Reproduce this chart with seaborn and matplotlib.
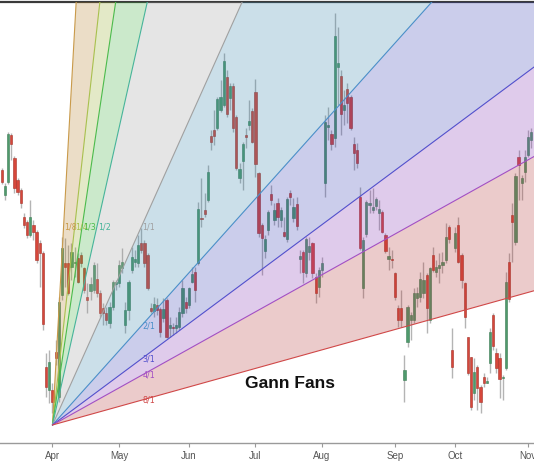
import numpy as np
import pandas as pd
import matplotlib
matplotlib.use("Agg")
import matplotlib.pyplot as plt
import seaborn as sns

# ---------------- data ----------------
opens = [83.0, 80.5, 81.8, 86.5, 84.2, 82.0, 81.0, 78.3, 77.8, 76.5,
         77.5, 76.8, 75.7, 74.7, 63.3, 61.0, 61.0, 64.8, 60.3, 70.5,
         73.7, 73.7, 73.3, 73.7, 74.2, 74.5, 73.2, 70.3, 70.9, 71.0,
         72.1, 70.7, 69.2, 68.7, 67.7, 69.3, 71.6, 71.7, 73.2, 67.5,
         69.0, 73.0, 73.8, 73.7, 75.7, 75.7, 74.5, 69.2, 68.9, 69.5,
         69.1, 68.2, 70.0, 67.2, 67.3, 67.2, 67.3, 68.7, 69.8, 69.5,
         71.8, 72.8, 73.7, 78.2, 79.0, 80.0, 86.4, 87.0, 87.2, 89.0,
         89.5, 92.3, 90.2, 91.4, 88.3, 82.2, 83.9, 86.5, 87.5, 88.9,
         90.8, 82.7, 77.5, 74.9, 77.0, 80.6, 78.0, 79.7, 78.0, 76.8,
         76.1, 80.7, 78.2, 79.6, 74.1, 74.8, 72.7, 74.8, 75.7, 72.3,
         71.3, 73.0, 81.7, 87.3, 86.6, 86.2, 93.3, 92.4, 89.0, 91.1,
         90.3, 85.6, 85.0, 80.3, 71.2, 76.6, 79.5, 79.0, 79.4, 78.7,
         78.8, 76.5, 74.1, 74.1, 72.7, 69.2, 69.2, 62.0, 65.8, 68.0,
         68.0, 70.2, 70.3, 70.7, 72.5, 68.0, 74.5, 72.8, 73.2, 73.5,
         74.0, 77.3, 65.0, 75.2, 77.5, 74.5, 71.7, 66.3, 64.3, 60.7,
         63.3, 61.3, 62.3, 61.7, 63.7, 68.5, 64.7, 64.2, 62.2, 63.2,
         73.8, 78.5, 75.8, 84.3, 81.7, 82.8, 84.5, 86.0]
highs = [83.2, 81.7, 86.8, 86.7, 84.4, 82.2, 81.2, 78.7, 78.0, 80.0,
         78.0, 77.0, 76.0, 74.9, 64.7, 65.0, 61.7, 66.0, 70.3, 76.3,
         76.2, 75.5, 75.7, 75.3, 74.7, 74.8, 73.3, 71.7, 72.3, 73.8,
         73.7, 71.0, 69.7, 69.3, 69.8, 72.0, 72.0, 74.0, 75.2, 69.8,
         72.0, 75.3, 75.0, 76.5, 77.2, 76.0, 74.7, 69.7, 70.3, 70.2,
         69.3, 70.2, 70.2, 68.3, 67.7, 68.3, 69.3, 72.0, 70.3, 71.3,
         73.3, 73.3, 79.8, 82.2, 80.7, 83.5, 87.0, 89.0, 90.3, 92.0,
         94.7, 93.0, 91.7, 91.7, 88.5, 83.7, 85.8, 87.2, 90.0, 89.2,
         92.1, 82.8, 77.7, 76.5, 79.0, 81.5, 79.7, 80.2, 79.3, 78.3,
         80.3, 81.0, 80.2, 80.3, 75.0, 75.0, 76.3, 76.3, 75.8, 72.7,
         73.3, 74.3, 88.5, 89.3, 87.0, 98.7, 97.3, 93.0, 91.0, 91.7,
         90.5, 86.3, 85.7, 81.3, 76.3, 80.0, 81.0, 81.2, 80.3, 80.0,
         79.0, 76.7, 75.3, 75.0, 72.8, 69.5, 71.0, 64.5, 69.5, 68.8,
         71.2, 71.3, 72.8, 73.8, 72.7, 73.3, 75.3, 74.0, 74.7, 74.8,
         77.7, 77.5, 67.2, 77.3, 78.3, 74.7, 71.8, 66.3, 64.3, 64.2,
         63.5, 61.5, 62.7, 62.3, 67.2, 68.7, 65.2, 64.7, 62.5, 72.8,
         74.7, 79.7, 82.7, 85.0, 82.5, 85.0, 87.0, 87.2]
lows = [81.6, 80.0, 81.6, 84.0, 80.7, 80.5, 79.2, 77.2, 76.2, 76.3,
        76.0, 73.7, 71.3, 67.0, 60.3, 59.7, 58.7, 63.5, 59.8, 70.0,
        71.3, 70.5, 72.0, 72.3, 71.7, 73.3, 70.7, 68.7, 70.0, 70.7,
        70.3, 68.3, 67.5, 67.5, 67.2, 69.0, 71.0, 71.3, 72.7, 66.7,
        68.0, 72.7, 73.3, 73.3, 74.7, 73.3, 71.0, 68.7, 68.3, 68.5,
        66.3, 67.8, 66.2, 66.3, 66.5, 66.7, 67.0, 68.3, 68.7, 69.2,
        71.7, 69.8, 73.5, 77.3, 78.3, 79.8, 85.0, 85.5, 87.0, 88.8,
        89.3, 88.3, 89.0, 86.8, 83.0, 81.7, 81.0, 85.2, 87.0, 85.7,
        82.3, 76.3, 72.5, 74.2, 76.5, 79.5, 77.5, 77.3, 77.3, 76.3,
        75.8, 79.5, 77.8, 77.0, 72.7, 71.7, 72.3, 74.0, 72.2, 69.7,
        70.3, 72.3, 80.3, 86.0, 85.0, 85.3, 89.5, 86.5, 87.5, 87.7,
        87.0, 83.0, 83.2, 75.0, 70.2, 76.3, 78.7, 78.7, 79.0, 77.0,
        76.7, 74.7, 73.0, 73.2, 70.0, 67.3, 67.3, 59.8, 65.3, 66.0,
        67.7, 69.3, 69.8, 70.2, 66.7, 67.7, 72.8, 72.3, 71.7, 72.7,
        73.7, 75.7, 62.2, 74.8, 73.7, 71.2, 67.2, 62.5, 59.0, 60.0,
        59.0, 58.7, 61.3, 61.7, 62.7, 65.0, 62.7, 60.2, 60.0, 63.0,
        69.8, 73.8, 75.5, 80.0, 80.0, 81.8, 84.3, 85.2]
closes = [81.8, 81.4, 86.6, 85.6, 81.2, 80.8, 79.7, 77.5, 76.5, 78.3,
          76.8, 74.0, 74.7, 67.6, 61.3, 63.8, 59.8, 64.2, 69.8, 75.2,
          73.3, 70.7, 74.8, 73.8, 71.8, 73.7, 71.0, 70.0, 71.6, 73.5,
          70.7, 68.7, 68.7, 68.0, 69.3, 71.8, 71.8, 73.5, 73.8, 69.0,
          71.8, 74.3, 74.1, 75.5, 75.0, 73.7, 71.2, 68.9, 69.6, 69.0,
          66.8, 69.1, 66.3, 67.5, 67.2, 67.5, 68.8, 71.2, 69.2, 71.2,
          72.6, 71.0, 79.1, 78.1, 78.6, 82.8, 85.8, 86.4, 90.1, 90.3,
          93.9, 88.6, 91.4, 87.2, 83.2, 83.1, 85.6, 86.3, 87.9, 85.8,
          83.6, 76.7, 76.2, 76.1, 78.8, 80.0, 79.0, 78.3, 79.0, 76.4,
          80.1, 80.3, 79.3, 77.4, 74.4, 72.8, 76.1, 75.4, 72.7, 70.7,
          73.0, 73.7, 87.8, 87.5, 85.6, 96.4, 93.7, 88.6, 89.5, 89.7,
          87.2, 84.7, 83.7, 75.2, 76.0, 79.8, 79.7, 79.3, 80.1, 79.1,
          76.8, 74.9, 74.4, 74.0, 70.3, 68.0, 68.0, 63.0, 69.3, 68.5,
          70.7, 70.7, 72.1, 72.0, 69.2, 73.2, 73.0, 73.3, 73.5, 73.8,
          76.3, 76.1, 63.3, 76.7, 73.8, 72.0, 68.3, 62.7, 59.3, 62.8,
          61.2, 59.8, 61.7, 61.9, 66.8, 65.4, 63.2, 62.1, 62.3, 71.8,
          70.1, 77.8, 82.4, 83.5, 82.2, 84.3, 86.3, 86.8]

month_labels = ["Apr", "May", "Jun", "Jul", "Aug", "Sep", "Oct", "Nov"]
month_bar_index = [16, 37, 59, 80, 101, 124, 143, 166]

# Gann fan anchor (bar index, price) and 1x1 box size (bars, price)
fan_anchor_bar = 16
fan_anchor_price = 57.5
fan_box_bars = 28
fan_box_price = 19.8
fan_names = ["1/8", "1/4", "1/3", "1/2", "1/1", "2/1", "3/1", "4/1", "8/1"]
fan_time = [1/8, 1/4, 1/3, 1/2, 1, 1, 1, 1, 1]      # fraction of box width
fan_price = [1, 1, 1, 1, 1, 1/2, 1/3, 1/4, 1/8]     # fraction of box height
fan_line_colors = ["#c99a4a", "#a9c04e", "#4cbb4c", "#47b49a", "#a0a0a0",
                   "#4a8fc8", "#5250cc", "#a24fc4", "#d04848"]
band_colors = ["#b07b23", "#93ab23", "#33ab33", "#9b9b9b",
               "#3383ab", "#333bb3", "#8333b3", "#b33333"]

# ---------------- style ----------------
sns.set_theme(style="white")
plt.rcParams["font.family"] = ["Liberation Sans", "DejaVu Sans"]

fig = plt.figure(figsize=(5.34, 4.62), dpi=100)
ax = fig.add_axes([0, 19 / 462, 1, 441 / 462])

df = pd.DataFrame({"o": opens, "h": highs, "l": lows, "c": closes})
df["i"] = np.arange(len(df))
up = df["c"] >= df["o"]

green = "#4f9a6c"
red = "#d6473b"

# wicks
ax.vlines(df["i"], df["l"], df["h"], color="#b4b4b4", lw=1.0, zorder=1)
# bodies
bottoms = np.minimum(df["o"], df["c"])
heights = np.maximum((df["c"] - df["o"]).abs(), 0.12)
ax.bar(df["i"][up], heights[up], bottom=bottoms[up], width=0.7,
       color=green, edgecolor="#3f7f58", linewidth=0.4, zorder=2)
ax.bar(df["i"][~up], heights[~up], bottom=bottoms[~up], width=0.7,
       color=red, edgecolor="#a8332a", linewidth=0.4, zorder=2)

# fan bands and lines
slopes = [(fan_box_price * fp) / (fan_box_bars * ft) for ft, fp in zip(fan_time, fan_price)]
xs = np.linspace(fan_anchor_bar, 400, 800)
for k in range(len(slopes) - 1):
    y1 = fan_anchor_price + slopes[k] * (xs - fan_anchor_bar)
    y2 = fan_anchor_price + slopes[k + 1] * (xs - fan_anchor_bar)
    ax.fill_between(xs, y1, y2, color=band_colors[k], alpha=0.25, lw=0, zorder=3)

rows = []
for name, s in zip(fan_names, slopes):
    for xv in (fan_anchor_bar, 400):
        rows.append({"fan": name, "x": xv, "y": fan_anchor_price + s * (xv - fan_anchor_bar)})
fan_df = pd.DataFrame(rows)
sns.lineplot(data=fan_df, x="x", y="y", hue="fan", hue_order=fan_names,
             palette=fan_line_colors, lw=0.8, legend=False, ax=ax, zorder=4)

for name, ft, fp, col in zip(fan_names, fan_time, fan_price, fan_line_colors):
    tx = fan_anchor_bar + fan_box_bars * ft
    ty = fan_anchor_price + fan_box_price * fp
    ax.text(tx + 0.3, ty, name, color=col, fontsize=5.8, ha="left", va="center",
            family=["DejaVu Sans"], zorder=5)

ax.text(0.543, 0.135, "Gann Fans", transform=ax.transAxes, fontsize=12.5,
        fontweight="bold", color="#111111", ha="center", va="center", zorder=6)

ax.set_xlim(-0.54, 167.86)
ax.set_ylim(55.7, 99.8)
ax.set_xticks(month_bar_index)
ax.set_xticklabels(month_labels)
ax.set_yticks([])
ax.set_xlabel("")
ax.set_ylabel("")
ax.tick_params(axis="x", bottom=True, length=3, width=0.8, color="#999999",
               labelsize=7, labelcolor="#555555", pad=3)
for side in ("left", "right"):
    ax.spines[side].set_visible(False)
ax.spines["top"].set_color("#3a3a3a")
ax.spines["top"].set_linewidth(1.6)
ax.spines["bottom"].set_color("#9a9a9a")
ax.spines["bottom"].set_linewidth(1.0)
ax.set_facecolor("white")
fig.patch.set_facecolor("white")

fig.savefig("out.png", dpi=100, facecolor="white")
